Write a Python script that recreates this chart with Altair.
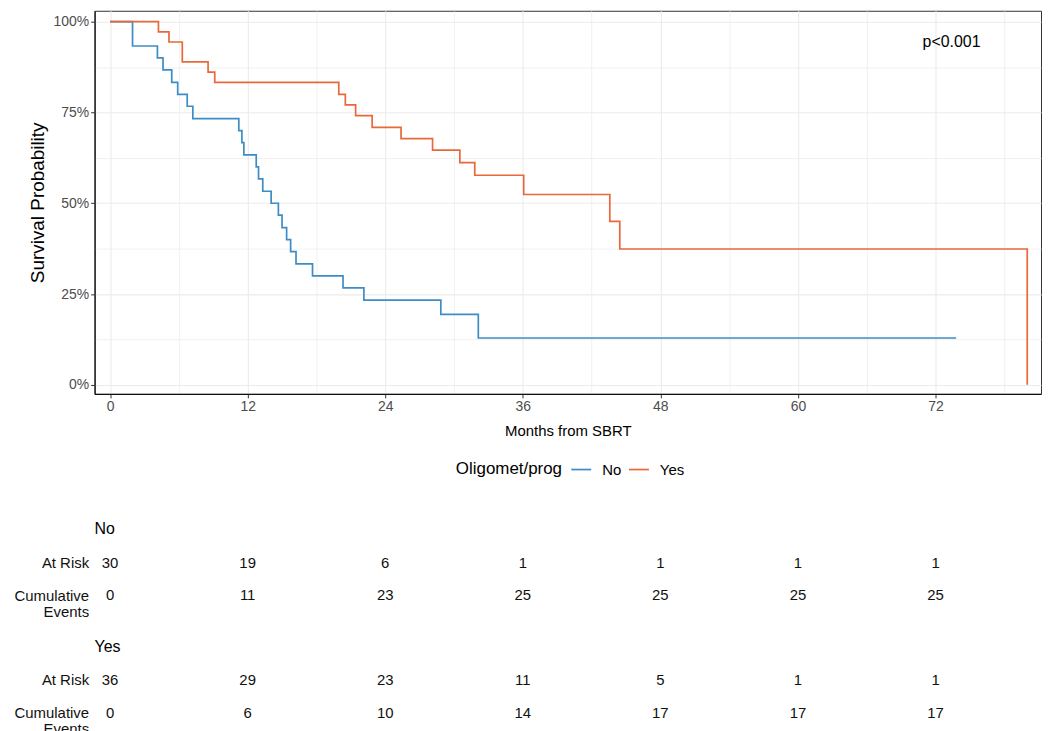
import altair as alt
import pandas as pd

# ---------------- data ----------------
groups = ["No", "Yes"]
colors = ["#3C8DC5", "#E8683A"]

no_times = [0, 1.96, 4.13, 4.62, 5.38, 5.90, 6.73, 7.22, 11.23, 11.5, 11.67, 12.75, 12.95,
            13.32, 14.05, 14.68, 15.0, 15.4, 15.75, 16.22, 17.66, 20.32, 22.14, 28.85, 32.12, 73.8]
no_surv = [1, 0.933, 0.9, 0.867, 0.833, 0.8, 0.767, 0.733, 0.7, 0.667, 0.633, 0.6, 0.567,
           0.533, 0.5, 0.467, 0.433, 0.4, 0.367, 0.333, 0.3, 0.267, 0.233, 0.194, 0.129, 0.129]

yes_times = [0, 4.22, 5.14, 6.30, 8.55, 9.13, 19.95, 20.52, 21.42, 22.86, 25.38, 28.13,
             30.51, 31.81, 36.08, 43.59, 44.46, 80.0]
yes_surv = [1, 0.972, 0.944, 0.889, 0.861, 0.833, 0.800, 0.771, 0.741, 0.709, 0.678, 0.646,
            0.612, 0.577, 0.524, 0.450, 0.374, 0.0]

risk_times = [0, 12, 24, 36, 48, 60, 72]
no_at_risk = [30, 19, 6, 1, 1, 1, 1]
no_cum_events = [0, 11, 23, 25, 25, 25, 25]
yes_at_risk = [36, 29, 23, 11, 5, 1, 1]
yes_cum_events = [0, 6, 10, 14, 17, 17, 17]

row_labels = ["At Risk", "Cumulative Events"]

p_text = ["p<0.001"]
p_time = [73.4]
p_surv = [0.945]

x_ticks = list(range(0, 79, 6))
y_ticks = [0, 0.125, 0.25, 0.375, 0.5, 0.625, 0.75, 0.875, 1.0]
x_domain = [-1.35, 81.2]
y_domain = [-0.025, 1.03]

W = 951
FONT = "Liberation Sans"

# ---------------- main KM plot ----------------
curve = pd.DataFrame({
    "time": no_times + yes_times,
    "surv": no_surv + yes_surv,
    "group": ["No"] * len(no_times) + ["Yes"] * len(yes_times),
})

x_scale = alt.Scale(domain=x_domain, nice=False, zero=False)

x_axis = alt.Axis(
    values=x_ticks,
    labelExpr="datum.value % 12 === 0 ? datum.label : ''",
    tickOpacity={"condition": {"test": "datum.value % 12 === 0", "value": 1}, "value": 0},
    gridWidth={"condition": {"test": "datum.value % 12 === 0", "value": 1.1}, "value": 0.7},
    gridColor="#EBEBEB",
    labelFontSize=14, labelColor="#4D4D4D", labelPadding=2,
    tickSize=4, tickColor="#333333",
    domainColor="#111111", domainWidth=1.2,
    titleFontSize=15, titleFontWeight="normal", titleColor="#000000", titlePadding=10,
    labelFlush=False,
)
y_axis = alt.Axis(
    values=y_ticks,
    format=".0%",
    labelExpr="datum.value % 0.25 === 0 ? datum.label : ''",
    tickOpacity={"condition": {"test": "datum.value % 0.25 === 0", "value": 1}, "value": 0},
    gridWidth={"condition": {"test": "datum.value % 0.25 === 0", "value": 1.1}, "value": 0.7},
    gridColor="#EBEBEB",
    labelFontSize=14, labelColor="#4D4D4D", labelPadding=2,
    tickSize=4, tickColor="#333333",
    domainColor="#111111", domainWidth=1.2,
    titleFontSize=19, titleFontWeight="normal", titleColor="#000000", titlePadding=6,
    labelFlush=False,
)

lines = alt.Chart(curve).mark_line(interpolate="step-after", strokeWidth=1.7).encode(
    x=alt.X("time:Q", scale=x_scale, axis=x_axis, title="Months from SBRT"),
    y=alt.Y("surv:Q", scale=alt.Scale(domain=y_domain, nice=False, zero=False),
            axis=y_axis, title="Survival Probability"),
    color=alt.Color(
        "group:N",
        scale=alt.Scale(domain=groups, range=colors),
        legend=alt.Legend(
            title="Oligomet/prog", orient="none", legendX=339, legendY=426,
            direction="horizontal", titleOrient="left", titleAnchor="middle",
            symbolType="stroke", symbolSize=400, symbolStrokeWidth=1.7,
            labelFontSize=15, titleFontSize=17, titleFontWeight="normal",
            titleColor="#000000", labelColor="#000000", titlePadding=8,
            columnPadding=3, labelOffset=10, padding=24,
        ),
    ),
)

ptext = alt.Chart(pd.DataFrame({"time": p_time, "surv": p_surv, "label": p_text})).mark_text(
    fontSize=16, color="#000000"
).encode(x="time:Q", y="surv:Q", text="label:N")

main = alt.layer(lines, ptext).properties(
    width=W, height=385,
    view=alt.ViewBackground(stroke="#333333", strokeWidth=1),
)

# ---------------- risk tables ----------------
def risk_table(name, at_risk, cum):
    df = pd.DataFrame({
        "time": risk_times * 2,
        "row": [row_labels[0]] * len(risk_times) + [row_labels[1]] * len(risk_times),
        "value": at_risk + cum,
    })
    return alt.Chart(
        df,
        title=alt.TitleParams(name, anchor="start", frame="group", fontSize=16,
                              fontWeight="normal", color="#000000",
                              baseline="alphabetic", offset=-4),
    ).mark_text(fontSize=15, color="#111111").encode(
        x=alt.X("time:Q", scale=x_scale, axis=None),
        y=alt.Y("row:N", sort=row_labels,
                axis=alt.Axis(title=None, domain=False, ticks=False, grid=False,
                              labelFontSize=15, labelColor="#111111", labelPadding=6,
                              labelLineHeight=16,
                              labelExpr="datum.value == 'Cumulative Events' ? ['Cumulative', 'Events'] : datum.value")),
        text="value:Q",
    ).properties(width=W, height=66, view=alt.ViewBackground(stroke="transparent"))


tab_no = risk_table("No", no_at_risk, no_cum_events)
tab_yes = risk_table("Yes", yes_at_risk, yes_cum_events)

chart = alt.vconcat(main, tab_no, tab_yes, spacing=18).resolve_legend(
    color="independent"
).properties(
    padding={"left": 5, "top": 0, "right": 0, "bottom": 0}
).configure(font=FONT)

chart.save("out.html", embed_options={"renderer": "svg", "actions": False})
